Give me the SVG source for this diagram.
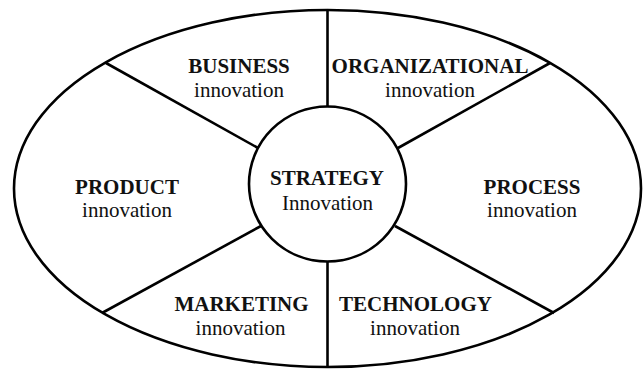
<svg xmlns="http://www.w3.org/2000/svg" width="643" height="372" viewBox="0 0 643 372">
<style>
.shape{fill:none;stroke:#000;stroke-width:2.6}
.hub{fill:#fff;stroke:#000;stroke-width:2.6}
.c{stroke:#000;stroke-width:2.6;fill:none}
text{font-family:"Liberation Serif","Times New Roman",serif;font-size:21px;text-anchor:middle;fill:#111}
.b{font-weight:bold}
</style>
<rect width="643" height="372" fill="#fff"/>
<g id="outer"><ellipse class="shape" cx="327.5" cy="188.5" rx="313.5" ry="178.5"/></g>
<g id="connectors">
<line class="c" x1="327.5" y1="10" x2="327.5" y2="106"/>
<line class="c" x1="327.5" y1="262" x2="327.5" y2="367"/>
<line class="c" x1="106" y1="63" x2="258" y2="148"/>
<line class="c" x1="550" y1="63" x2="398" y2="148"/>
<line class="c" x1="102" y1="313" x2="261" y2="226"/>
<line class="c" x1="554" y1="313" x2="395" y2="226"/>
</g>
<g id="strategy"><ellipse class="hub" cx="327.5" cy="184" rx="78.5" ry="77.5"/><text class="b" x="327" y="185">STRATEGY</text><text x="327.5" y="210">Innovation</text></g>
<g id="business"><text class="b" x="239" y="73">BUSINESS</text><text x="239" y="97">innovation</text></g>
<g id="organizational"><text class="b" x="430" y="73">ORGANIZATIONAL</text><text x="430" y="97">innovation</text></g>
<g id="product"><text class="b" x="127" y="193.5">PRODUCT</text><text x="127" y="217">innovation</text></g>
<g id="process"><text class="b" x="532" y="193.5">PROCESS</text><text x="532" y="217">innovation</text></g>
<g id="marketing"><text class="b" x="241.5" y="311">MARKETING</text><text x="240.5" y="335">innovation</text></g>
<g id="technology"><text class="b" x="415.5" y="311">TECHNOLOGY</text><text x="415" y="335">innovation</text></g>
</svg>
